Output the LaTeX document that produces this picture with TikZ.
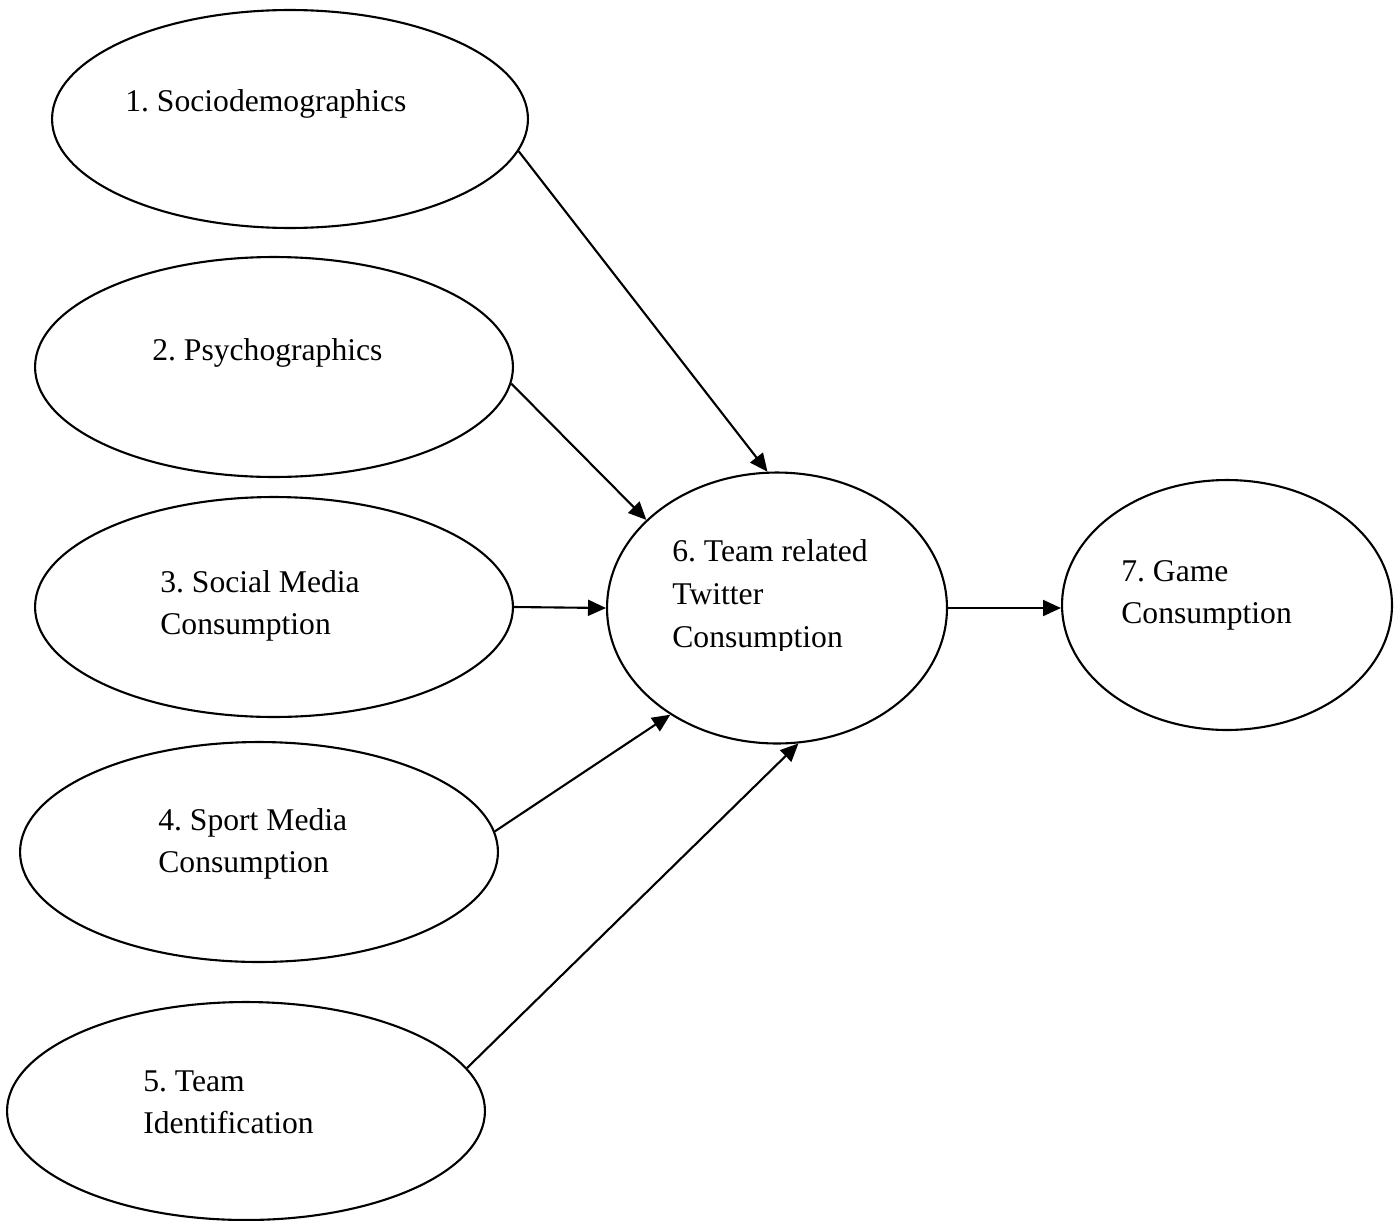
\documentclass[tikz,border=0pt]{standalone}
\usepackage{fontspec}
\setmainfont{Liberation Serif}
\usetikzlibrary{shapes.geometric,arrows.meta}
\frenchspacing
\begin{document}
\begin{tikzpicture}[x=0.02cm,y=-0.02cm,
  oval/.style={ellipse,draw,line width=1.2pt,inner sep=0pt},
  lbl/.style={anchor=base west,inner sep=0pt,align=left,font=\fontsize{18}{23.5}\selectfont},
  conn/.style={line width=1.2pt,-{Triangle[length=0.36cm,width=0.32cm]}}]
\useasboundingbox (0,0) rectangle (1398,1220);
\node[oval,minimum width=9.52cm,minimum height=4.36cm] (e1) at (290,119) {};
\node[oval,minimum width=9.56cm,minimum height=4.4cm] (e2) at (274,367) {};
\node[oval,minimum width=9.56cm,minimum height=4.4cm] (e3) at (274,607) {};
\node[oval,minimum width=9.56cm,minimum height=4.4cm] (e4) at (259,852) {};
\node[oval,minimum width=9.56cm,minimum height=4.36cm] (e5) at (246,1111) {};
\node[oval,minimum width=6.8cm,minimum height=5.42cm] (e6) at (777,608) {};
\node[oval,minimum width=6.6cm,minimum height=5.0cm] (e7) at (1227,605) {};
\node[lbl] (t1) at (125,112) {1. Sociodemographics};
\node[lbl] (t2) at (152,360) {2. Psychographics};
\node[lbl] (t3) at (160,634) {3. Social Media\\Consumption};
\node[lbl] (t4) at (158,872) {4. Sport Media\\Consumption};
\node[lbl] (t5) at (143,1133) {5. Team\\Identification};
\begin{scope}
\clip (600,480) rectangle (950,650);
\node[lbl,font=\fontsize{18}{24.3}\selectfont] (t6) at (672,647) {6. Team related\\Twitter\\Consumption};
\end{scope}
\node[lbl] (t7) at (1121,623) {7. Game\\Consumption};
\draw[conn] (e1.-8) -- (e6.94);
\draw[conn] (e2.-4) -- (e6.146);
\draw[conn] (e3.east) -- (e6.west);
\draw[conn] (e4.5) -- (e6.225);
\draw[conn] (e5.11) -- (e6.-81);
\draw[conn] (e6.east) -- (e6.east -| e7.west);
\end{tikzpicture}
\end{document}
